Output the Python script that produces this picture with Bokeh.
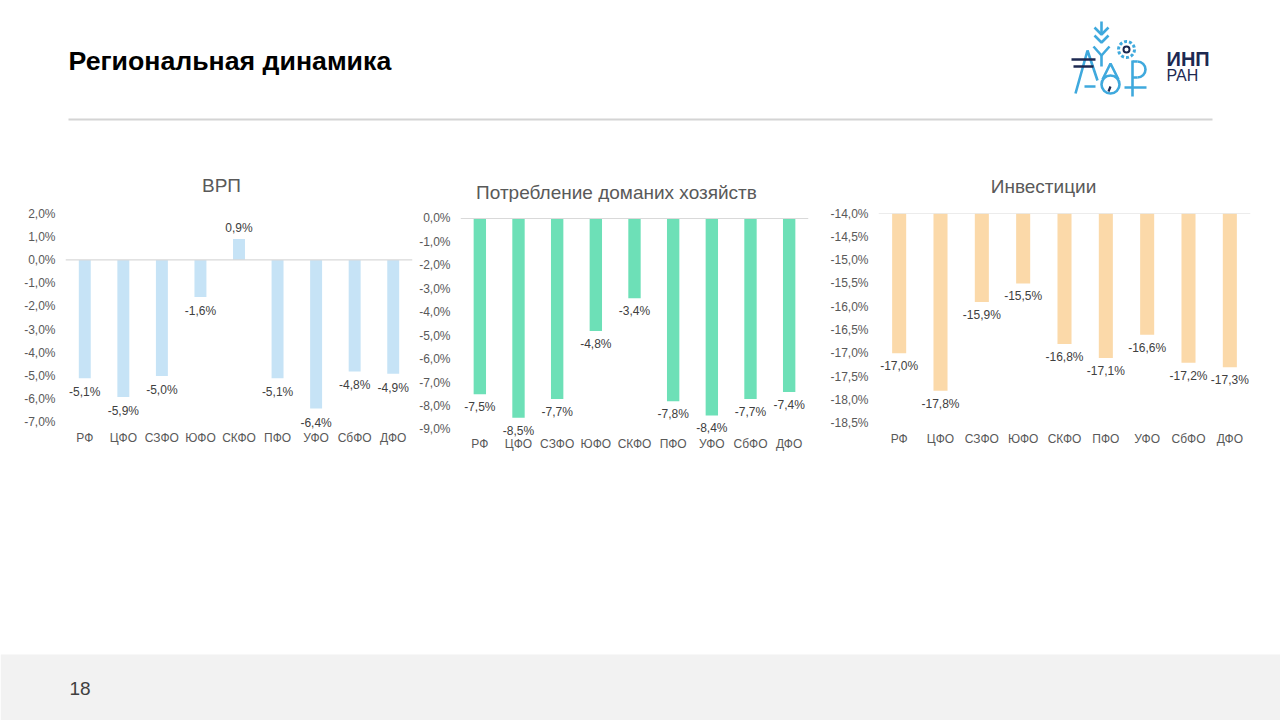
from bokeh.plotting import figure
from bokeh.layouts import column, row
from bokeh.models import (Range1d, FactorRange, FixedTicker, CustomJSTickFormatter,
                          Span, ColumnDataSource, LabelSet)
from bokeh.core.properties import value
from bokeh.embed import file_html
from bokeh.resources import INLINE

# ---------------- data ----------------
regions = ["РФ", "ЦФО", "СЗФО", "ЮФО", "СКФО", "ПФО", "УФО", "СбФО", "ДФО"]
grp = [-5.1, -5.9, -5.0, -1.6, 0.9, -5.1, -6.4, -4.8, -4.9]
consumption = [-7.5, -8.5, -7.7, -4.8, -3.4, -7.8, -8.4, -7.7, -7.4]
investment = [-17.0, -17.8, -15.9, -15.5, -16.8, -17.1, -16.6, -17.2, -17.3]

chart_titles = ["ВРП", "Потребление доманих хозяйств", "Инвестиции"]
page_title = "Региональная динамика"
page_number = "18"

grp_ticks = [2, 1, 0, -1, -2, -3, -4, -5, -6, -7]
cons_ticks = [0, -1, -2, -3, -4, -5, -6, -7, -8, -9]
inv_ticks = [-14, -14.5, -15, -15.5, -16, -16.5, -17, -17.5, -18, -18.5]

FONT = "Liberation Sans"
GRAY = "#595959"
DARK = "#404040"
BLUE = "#3fa9dd"
NAVY = "#1d2951"


def fmt(v):
    return f"{v:.1f}".replace(".", ",") + "%"


def make_chart(vals, base, ticks, y_lo, y_hi, color, width, bl, br,
               bar_w, standoff_x, lab_off_neg, lab_off_pos):
    p = figure(width=width, height=268, x_range=FactorRange(*regions),
               y_range=Range1d(y_lo, y_hi), title=None,
               output_backend="svg", toolbar_location=None,
               min_border_left=bl, min_border_right=br,
               min_border_top=11, min_border_bottom=23)
    p.outline_line_color = None
    p.background_fill_color = "white"
    p.border_fill_color = "white"
    p.xgrid.visible = False
    p.ygrid.visible = False
    for ax in (p.xaxis[0], p.yaxis[0]):
        ax.axis_line_color = None
        ax.major_tick_line_color = None
        ax.minor_tick_line_color = None
        ax.major_tick_out = 0
        ax.major_tick_in = 0
        ax.major_label_text_font = FONT
        ax.major_label_text_font_size = "12px"
        ax.major_label_text_color = GRAY
    p.yaxis[0].ticker = FixedTicker(ticks=ticks)
    p.yaxis[0].formatter = CustomJSTickFormatter(
        code="return tick.toFixed(1).replace('.', ',') + '%';")
    p.yaxis[0].major_label_standoff = 10
    p.xaxis[0].major_label_standoff = standoff_x

    p.add_layout(Span(location=base, dimension="width", line_color="#d9d9d9",
                      line_width=1.2))
    src = ColumnDataSource(dict(
        x=regions, v=vals, base=[base] * len(vals),
        lab=[fmt(v) for v in vals],
        off=[lab_off_pos if v > base else lab_off_neg for v in vals]))
    p.vbar(x="x", top="base", bottom="v", width=bar_w, source=src,
           fill_color=color, line_color=None)
    p.add_layout(LabelSet(x="x", y="v", text="lab", y_offset="off", source=src,
                          text_align="center", text_baseline="middle",
                          text_font=value(FONT), text_font_size=value("12px"),
                          text_color=DARK))
    return p


c1 = make_chart(grp, 0, grp_ticks, -8.077, 2.0, "#c6e3f6", 415, 65, 3,
                0.31, -17, -14, 11)
c2 = make_chart(consumption, 0, cons_ticks, -9.768, 0.213, "#6de0b7", 403, 45, 10,
                0.32, -11, -13, 11)
c3 = make_chart(investment, -14, inv_ticks, -19.02, -14.0, "#fbd9a9", 452, 60, 20,
                0.34, -16, -13, 11)

# ---------------- header ----------------
h = figure(width=1280, height=202, x_range=Range1d(0, 1280), y_range=Range1d(202, 0),
           output_backend="svg", toolbar_location=None, title=None,
           x_axis_type=None, y_axis_type=None, min_border=0)
h.outline_line_color = None
h.grid.visible = False
h.background_fill_color = "white"
h.border_fill_color = "white"

h.text(x=[68], y=[60], text=[page_title], text_font=value(FONT),
       text_font_style="bold", text_font_size="26.7px", text_color="black",
       text_baseline="middle", text_align="left")
h.line(x=[68, 1212], y=[119, 119], line_color="#d4d4d4", line_width=2)

# chart titles
h.text(x=[221, 616, 1043], y=[185, 192, 186], text=chart_titles,
       text_font=value(FONT), text_font_size="19px", text_color=GRAY,
       text_baseline="middle", text_align="center")

# logo (decorative)
h.multi_line(xs=[[1094, 1101, 1108], [1094, 1101, 1108], [1093, 1101, 1109],
                 [1101, 1101], [1101, 1101]],
             ys=[[27, 34, 27], [35, 42, 35], [46, 55, 46], [21, 34], [55, 66]],
             line_color=BLUE, line_width=2.6)
h.circle(x=[1126], y=[49], radius=8, fill_color=None, line_color=BLUE,
         line_width=3, line_dash="3 2")
h.circle(x=[1126], y=[49], radius=3, fill_color=None, line_color=NAVY, line_width=2)
h.multi_line(xs=[[1075, 1087, 1097], [1084, 1095]],
             ys=[[93, 50, 80], [86, 86]], line_color=BLUE, line_width=2.6)
h.multi_line(xs=[[1071, 1095], [1073, 1093]], ys=[[59, 59], [66, 66]],
             line_color=NAVY, line_width=2.6)
h.circle(x=[1110], y=[84], radius=9, fill_color=None, line_color=BLUE, line_width=2.6)
h.multi_line(xs=[[1102, 1110, 1118]], ys=[[79, 63, 79]], line_color=BLUE, line_width=2.6)
h.line(x=[1110, 1108], y=[86, 91], line_color=NAVY, line_width=2.2)
h.multi_line(xs=[[1132, 1132], [1124, 1146]], ys=[[60, 96], [87, 87]],
             line_color=BLUE, line_width=2.6)
h.arc(x=[1137], y=[69], radius=8, start_angle=-1.5708, end_angle=1.5708,
      direction="anticlock", line_color=BLUE, line_width=2.6)
h.multi_line(xs=[[1132, 1137], [1132, 1137]], ys=[[61, 61], [77, 77]],
             line_color=BLUE, line_width=2.6)
h.text(x=[1166], y=[58], text=["ИНП"], text_font=value(FONT), text_font_style="bold",
       text_font_size="20px", text_color=NAVY, text_baseline="middle")
h.text(x=[1166], y=[75], text=["РАН"], text_font=value(FONT),
       text_font_size="16px", text_color=NAVY, text_baseline="middle")

# ---------------- footer ----------------
f = figure(width=1280, height=250, x_range=Range1d(0, 1280), y_range=Range1d(720, 470),
           output_backend="svg", toolbar_location=None, title=None,
           x_axis_type=None, y_axis_type=None, min_border=0)
f.outline_line_color = None
f.grid.visible = False
f.background_fill_color = "white"
f.border_fill_color = "white"
f.quad(left=[0], right=[1280], top=[654], bottom=[720], fill_color="#f2f2f2",
       line_color=None)
f.text(x=[69], y=[688], text=[page_number], text_font=value(FONT),
       text_font_size="19px", text_color=DARK, text_baseline="middle")

layout = column(h, row(c1, c2, c3), f)

open("out.html", "w").write(file_html(layout, INLINE))
